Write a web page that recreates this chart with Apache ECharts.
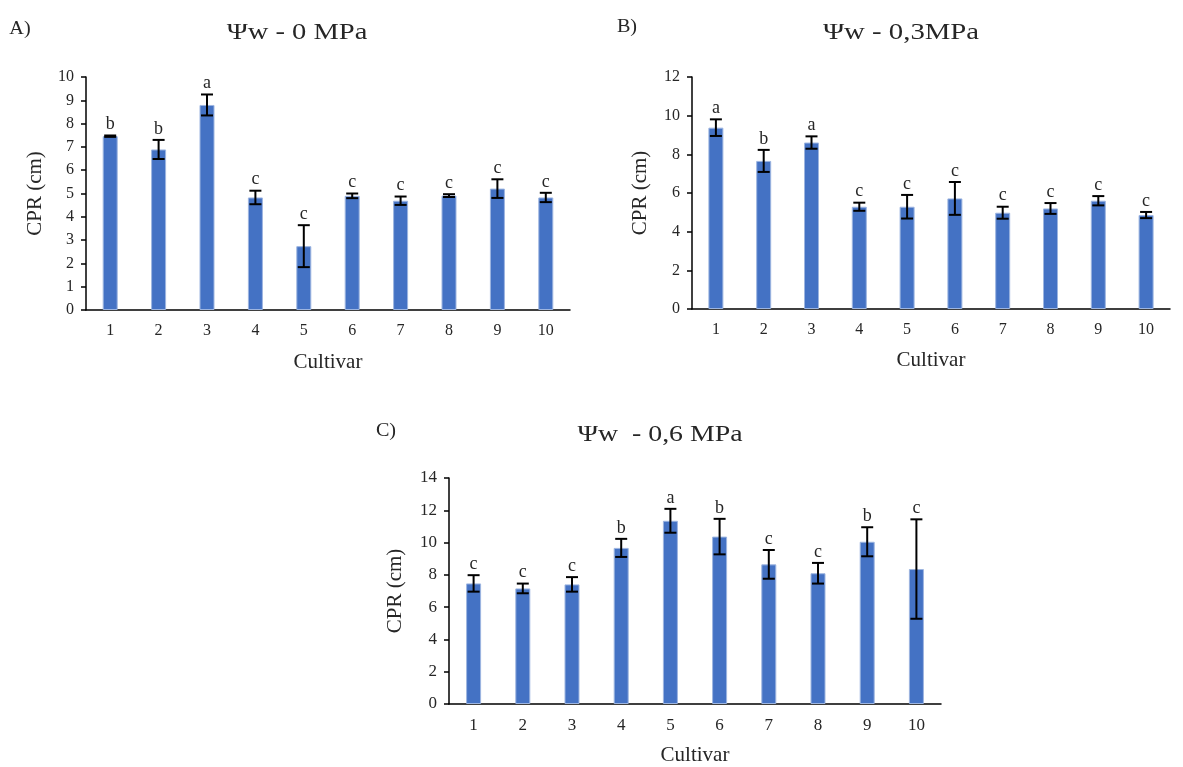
<!DOCTYPE html>
<html>
<head>
<meta charset="utf-8">
<script src="https://cdn.jsdelivr.net/npm/echarts@6/dist/echarts.min.js"></script>
<style>html,body{margin:0;padding:0;background:#fff;}#c{width:1183px;height:767px;}</style>
</head>
<body>
<div id="c"></div>
<script>
var categories = ['1','2','3','4','5','6','7','8','9','10'];

var meansA = [7.46, 6.89, 8.80, 4.83, 2.74, 4.90, 4.69, 4.91, 5.21, 4.83];
var errsA  = [0.03, 0.41, 0.45, 0.29, 0.90, 0.10, 0.18, 0.06, 0.40, 0.20];
var lettersA = ['b','b','a','c','c','c','c','c','c','c'];

var meansB = [9.38, 7.66, 8.61, 5.29, 5.29, 5.72, 4.98, 5.20, 5.60, 4.86];
var errsB  = [0.43, 0.57, 0.32, 0.21, 0.61, 0.85, 0.31, 0.28, 0.24, 0.16];
var lettersB = ['a','b','a','c','c','c','c','c','c','c'];

var meansC = [7.47, 7.16, 7.41, 9.67, 11.35, 10.37, 8.65, 8.10, 10.05, 8.36];
var errsC  = [0.51, 0.30, 0.45, 0.56, 0.74, 1.10, 0.89, 0.64, 0.90, 3.08];
var lettersC = ['c','c','c','b','a','b','c','c','b','c'];

var titles = ['Ψw - 0 MPa', 'Ψw - 0,3MPa', 'Ψw  - 0,6 MPa'];
var panelTags = ['A)', 'B)', 'C)'];

var FONT = '"Liberation Serif", "Times New Roman", serif';
var TXT = '#262626';

function errRenderer(means, errs, letters, fs) {
  return function (params, api) {
    var i = params.dataIndex;
    var hi = api.coord([i, means[i] + errs[i]]);
    var lo = api.coord([i, means[i] - errs[i]]);
    var cw = 6;
    var st = {stroke: '#000', lineWidth: 2};
    return {type: 'group', children: [
      {type: 'line', shape: {x1: hi[0], y1: hi[1], x2: lo[0], y2: lo[1]}, style: st},
      {type: 'line', shape: {x1: hi[0] - cw, y1: hi[1], x2: hi[0] + cw, y2: hi[1]}, style: st},
      {type: 'line', shape: {x1: lo[0] - cw, y1: lo[1], x2: lo[0] + cw, y2: lo[1]}, style: st},
      {type: 'text', style: {text: letters[i], x: hi[0], y: hi[1] - 2, align: 'center', verticalAlign: 'bottom',
        font: fs + 'px ' + FONT, fill: TXT}}
    ]};
  };
}

function xAx(gi, fs, gap) {
  return {
    type: 'category', gridIndex: gi, data: categories,
    name: 'Cultivar', nameLocation: 'middle', nameGap: gap,
    nameTextStyle: {fontFamily: FONT, fontSize: 21, color: TXT},
    axisLine: {lineStyle: {color: '#000', width: 1.5}},
    axisTick: {length: 5, lineStyle: {color: '#000', width: 1.5}},
    axisLabel: {fontFamily: FONT, fontSize: fs, color: TXT, margin: 13}
  };
}
function yAx(gi, max, interval, fs, gap) {
  return {
    type: 'value', gridIndex: gi, min: 0, max: max, interval: interval,
    name: 'CPR (cm)', nameLocation: 'middle', nameGap: gap,
    nameTextStyle: {fontFamily: FONT, fontSize: 21, color: TXT},
    splitLine: {show: false},
    axisLine: {show: true, lineStyle: {color: '#000', width: 1.5}},
    axisTick: {show: true, length: 5, lineStyle: {color: '#000', width: 1.5}},
    axisLabel: {fontFamily: FONT, fontSize: fs, color: TXT, margin: 12}
  };
}
function barS(gi, data, w) {
  return {type: 'bar', xAxisIndex: gi, yAxisIndex: gi, data: data, barWidth: w,
    itemStyle: {color: '#4472C4', borderColor: '#9db5e0', borderWidth: 1}, animation: false};
}
function errS(gi, means, errs, letters, fs) {
  return {type: 'custom', xAxisIndex: gi, yAxisIndex: gi,
    data: means.map(function (m, i) { return [i, m]; }),
    encode: {x: 0, y: 1}, clip: false, z: 5, animation: false,
    renderItem: errRenderer(means, errs, letters, fs)};
}
function stretchedText(txt, cx, cy, fs, sx) {
  return {type: 'text', x: cx, y: cy, scaleX: sx, silent: true,
    style: {text: txt, x: 0, y: 0, textAlign: 'center', textVerticalAlign: 'middle',
      align: 'center', verticalAlign: 'middle', font: fs + 'px ' + FONT, fill: TXT}};
}

var chart = echarts.init(document.getElementById('c'));
chart.setOption({
  backgroundColor: '#fff',
  animation: false,
  graphic: [
    stretchedText(titles[0], 297, 33, 23, 1.24),
    stretchedText(titles[1], 901, 33, 23, 1.25),
    stretchedText(titles[2], 660, 435, 23, 1.21),
    stretchedText(panelTags[0], 20, 29, 18, 1.12),
    stretchedText(panelTags[1], 627, 27, 18, 1.12),
    stretchedText(panelTags[2], 386, 431, 18, 1.12)
  ],
  grid: [
    {left: 86, top: 77, width: 484, height: 233},
    {left: 692, top: 77, width: 478, height: 232},
    {left: 449, top: 478, width: 492, height: 228}
  ],
  xAxis: [xAx(0, 16, 42), xAx(1, 16, 41), xAx(2, 17, 41)],
  yAxis: [yAx(0, 10, 1, 16, 40), yAx(1, 12, 2, 16, 41), yAx(2, 14, 2, 17, 43)],
  series: [
    barS(0, meansA, 15), errS(0, meansA, errsA, lettersA, 18),
    barS(1, meansB, 15), errS(1, meansB, errsB, lettersB, 18),
    barS(2, meansC, 15), errS(2, meansC, errsC, lettersC, 18)
  ]
});
</script>
</body>
</html>
